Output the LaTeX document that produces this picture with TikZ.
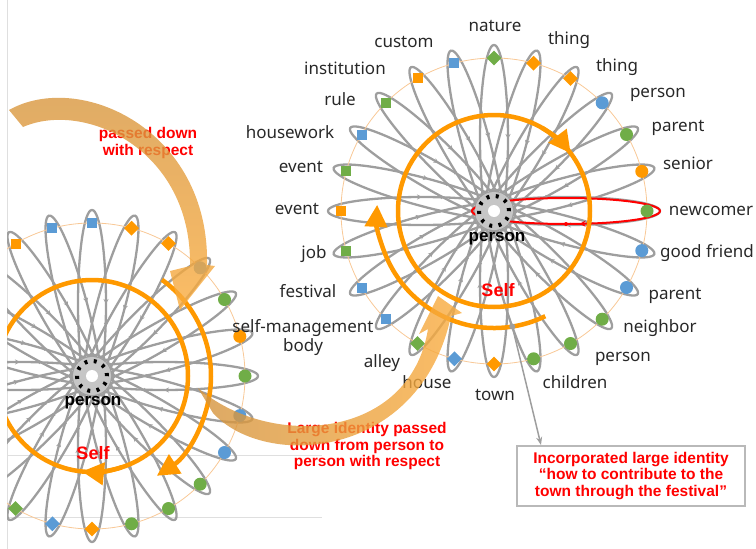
\documentclass[tikz,border=0pt]{standalone}
\usepackage{fontspec}
\setmainfont{Noto Sans}
\newfontfamily\heavysans{Liberation Sans}
\usetikzlibrary{arrows.meta, shapes.geometric, decorations.markings, positioning}

\definecolor{mgreen}{RGB}{112,173,71}
\definecolor{mblue}{RGB}{91,155,213}
\definecolor{morange}{RGB}{255,153,0}
\definecolor{rimorange}{RGB}{248,200,150}
\definecolor{petalgray}{RGB}{158,158,158}
\definecolor{lblgray}{RGB}{40,40,40}
\definecolor{arrowtan}{RGB}{212,148,62}
\definecolor{arrowlight}{RGB}{250,172,62}

\tikzset{
  petal/.style={draw=petalgray, line width=2.3pt,
    postaction={decorate, decoration={markings,
      mark=at position 0.70 with {\fill[petalgray] circle (1.8pt);},
      mark=at position 0.75 with {\arrowreversed[petalgray]{Stealth[length=5pt,width=5pt]}}}}},
  newpetal/.style={draw=red, line width=2pt,
    postaction={decorate, decoration={markings,
      mark=at position 0.75 with {\fill[red] circle (2pt);},
      mark=at position 0.785 with {\arrowreversed[red]{Stealth[length=6pt,width=6pt]}}}}},
  rim/.style={draw=rimorange, line width=0.8pt},
  msq/.style={rectangle, minimum size=10pt, inner sep=0pt},
  mdia/.style={diamond, minimum size=15pt, inner sep=0pt},
  mdot/.style={circle, minimum size=13pt, inner sep=0pt},
  self/.style={draw=morange, line width=4.5pt},
  selftip/.style={-{Triangle[length=22pt,width=22pt]}},
  lbl/.style={font=\fontsize{17}{19}\selectfont, text=lblgray, inner sep=0pt,
    text height=11.5pt, text depth=3pt},
  who/.style={font=\heavysans\bfseries\fontsize{17}{19}\selectfont, text=black, inner sep=0pt},
  selftxt/.style={font=\heavysans\bfseries\fontsize{18}{20}\selectfont, text=red, inner sep=0pt},
  note/.style={font=\heavysans\bfseries\fontsize{15.5}{16.5}\selectfont, text=red, align=center, inner sep=0pt},
  notebox/.style={draw=gray!55, line width=2pt, minimum width=228pt, minimum height=60pt},
  conn/.style={draw=petalgray, line width=1.5pt, -{Stealth[length=8pt,width=6pt]}},
  frame/.style={draw=gray!25, line width=0.8pt}
}

% one wheel: petals and thin rim, then the markers
\newcommand{\wheelpetals}{%
  \foreach \a in {0,15,...,345}
    \draw[petal, rotate=\a] (72,0) ellipse [x radius=94, y radius=14];
  \draw[rim] (0,0) circle (153);
}
\newcommand{\wheelmarks}[1]{%
  \foreach \a/\s/\c in {75/mdia/morange, 60/mdia/morange, 45/mdot/mblue,
      30/mdot/mgreen, 15/mdot/morange, 0/mdot/mgreen, -15/mdot/mblue,
      -30/mdot/mblue, -45/mdot/mgreen, -60/mdot/mgreen, -75/mdot/mgreen,
      -90/mdia/morange, -105/mdia/mblue, -120/mdia/mgreen, -135/msq/mblue,
      -150/msq/mblue, -165/msq/mgreen, 180/msq/morange, 165/msq/mgreen,
      150/msq/mblue, 135/msq/mgreen, 120/msq/morange, 105/msq/mblue}
    \node[\s, fill=\c] (#1\a) at (\a:153) {};
}
\newcommand{\wheelhub}{%
  \fill[gray!45] (0,0) circle (19);
  \draw[line width=4pt, dash pattern=on 3pt off 6.4pt] (0,0) circle (15);
  \fill[white] (0,0) circle (6);
}

\begin{document}
\begin{tikzpicture}[x=1pt, y=1pt]
\useasboundingbox (0,0) rectangle (756,-549);

% frame of the older picture
\draw[frame] (7,0) -- (7,-549);
\draw[frame] (7,-455) -- (322,-455);
\draw[frame] (7,-517) -- (322,-517);

% left wheel
\begin{scope}
  \clip (7,0) rectangle (300,-549);
  \begin{scope}[shift={(92,-376)}]
    \wheelpetals
    \wheelmarks{l}
    \node[msq, fill=mblue] (l90) at (90:153) {};
    \wheelhub
    \node[who] (lperson) at (1,-27) {person};
    \draw[self] (0,0) circle (96);
    \draw[self, selftip] (-72:96) arc[start angle=-72, end angle=-96, radius=96];
    \draw[self, selftip] (54:119) arc[start angle=54, end angle=-57, radius=119];
    \node[selftxt] (lself) at (1,-77) {Self};
  \end{scope}
\end{scope}

% right wheel
\begin{scope}[shift={(494,-211)}]
  \wheelpetals
  \draw[newpetal] (72,0) ellipse [x radius=94, y radius=13];
  \wheelmarks{r}
  \node[mdia, fill=mgreen] (r90) at (90:153) {};
  \wheelhub
  \node[who] (rperson) at (3,-28) {person};
  \draw[self] (0,0) circle (96);
  \draw[self, selftip] (60:96) arc[start angle=60, end angle=37, radius=96];
  \draw[self, selftip] (-64:117) arc[start angle=-64, end angle=-183, radius=117];
  \coordinate (selfdot) at (-81:117);
  \node[selftxt] (rself) at (4,-79) {Self};
\end{scope}

% labels of the right wheel
\node[lbl] (nature) at (495,-27) {nature};
\node[lbl] (thingA) at (569,-40) {thing};
\node[lbl] (thingB) at (617,-67) {thing};
\node[lbl] (personA) at (658,-93) {person};
\node[lbl] (parentA) at (678,-127) {parent};
\node[lbl] (senior) at (688,-165) {senior};
\node[lbl] (newcomer) at (711,-211) {newcomer};
\node[lbl, anchor=west] (friend) at (660,-253) {good friend};
\node[lbl] (parentB) at (675,-295) {parent};
\node[lbl] (neighbor) at (660,-328) {neighbor};
\node[lbl] (personB) at (623,-357) {person};
\node[lbl] (children) at (575,-384) {children};
\node[lbl] (town) at (495,-396) {town};
\node[lbl] (house) at (427,-384) {house};
\node[lbl] (alley) at (382,-363) {alley};
\node[lbl, align=center, text height=, text depth=] (selfmgmt) at (303,-338) {self-management\\body};
\node[lbl] (festival) at (308,-293) {festival};
\node[lbl] (job) at (314,-254) {job};
\node[lbl] (eventA) at (297,-210) {event};
\node[lbl] (eventB) at (301,-168) {event};
\node[lbl] (housework) at (290,-134) {housework};
\node[lbl] (rule) at (340,-101) {rule};
\node[lbl] (institution) at (345,-70) {institution};
\node[lbl] (custom) at (404,-43) {custom};

% red notes
\node[note] (passnote) at (148,-143) {passed down\\with respect};
\node[note] (largenote) at (367,-446) {Large identity passed\\down from person to\\person with respect};
\node[note, notebox] (incorp) at (631,-476) {Incorporated large identity\\“how to contribute to the\\town through the festival”};
\fill[petalgray] (selfdot) circle (3);
\draw[conn] (selfdot) -- ([xshift=25pt]incorp.north west);

% translucent hand-over arrows
\shade[top color=arrowtan, bottom color=arrowlight, opacity=0.8]
  (9,-110) .. controls (80,-70) and (210,-130) .. (207,-265)
  -- (215,-266) -- (180,-310) -- (170,-271) -- (190,-266)
  .. controls (192,-150) and (85,-100) .. (23,-127) -- cycle;
\shade[left color=arrowtan, right color=arrowlight, opacity=0.8]
  (198,-388) -- (213,-413) .. controls (265,-470) and (420,-460) .. (451,-316)
  -- (462,-313) -- (438,-296) -- (419,-334) -- (428,-329)
  .. controls (410,-440) and (270,-450) .. (198,-388) -- cycle;
\end{tikzpicture}
\end{document}
